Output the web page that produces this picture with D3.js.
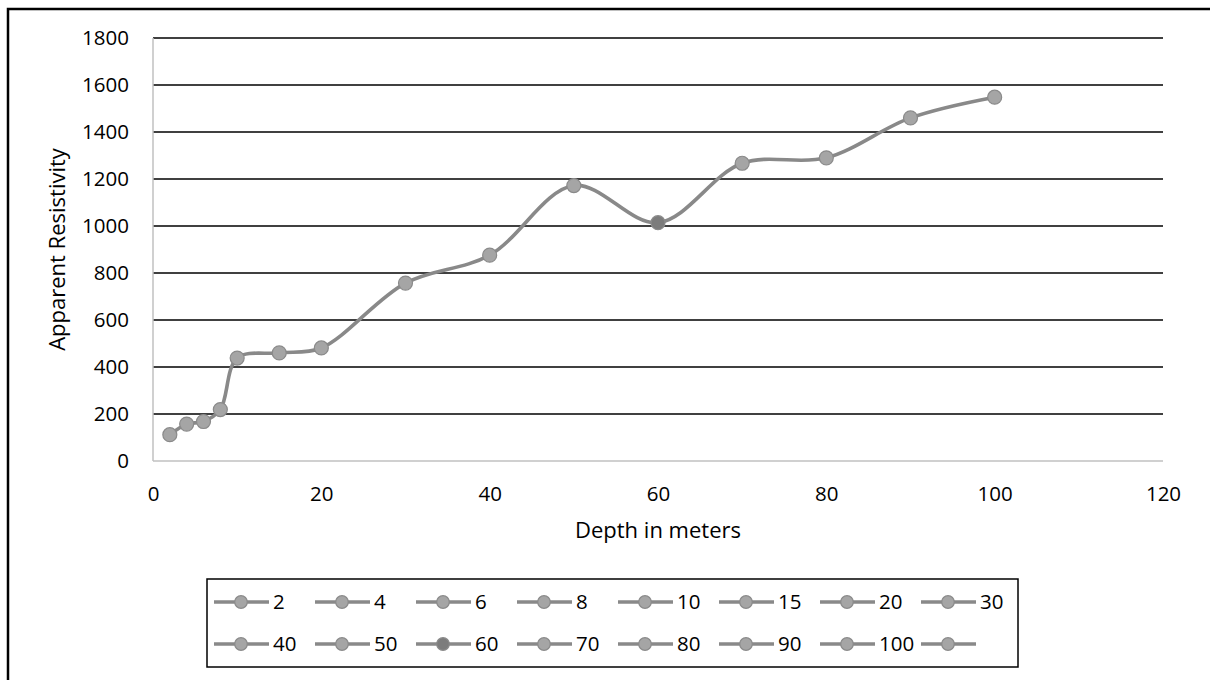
<!DOCTYPE html>
<html>
<head>
<meta charset="utf-8">
<script src="https://cdn.jsdelivr.net/npm/d3@7/dist/d3.min.js"></script>
<style>
  body { margin: 0; background: #fff; }
  text { font-family: "Open Sans", "Noto Sans", sans-serif; fill: #000; }
</style>
</head>
<body>
<div id="chart"></div>
<script>
// data
var depths = [2, 4, 6, 8, 10, 15, 20, 30, 40, 50, 60, 70, 80, 90, 100];
var resistivity = [112, 157, 168, 219, 438, 460, 481, 757, 876, 1172, 1014, 1267, 1290, 1460, 1548];
var legendLabels = ["2", "4", "6", "8", "10", "15", "20", "30", "40", "50", "60", "70", "80", "90", "100", ""];
var xTicks = [0, 20, 40, 60, 80, 100, 120];
var yTicks = [0, 200, 400, 600, 800, 1000, 1200, 1400, 1600, 1800];

var svgWidth = 1210;
var svgHeight = 680;

var svg = d3.select("#chart")
  .append("svg")
  .attr("width", svgWidth)
  .attr("height", svgHeight);

// outer frame (only top and left edges are visible)
svg.append("path")
  .attr("d", "M8,680 L8,9 L1210,9")
  .attr("fill", "none")
  .attr("stroke", "#000")
  .attr("stroke-width", 2.5);

// scales
var xScale = d3.scaleLinear().domain([0, 120]).range([153, 1163]);
var yScale = d3.scaleLinear().domain([0, 1800]).range([461, 38]);

// gridlines
svg.append("g")
  .selectAll("line")
  .data(yTicks.filter(d => d > 0))
  .enter()
  .append("line")
  .attr("x1", xScale(0))
  .attr("x2", xScale(120))
  .attr("y1", d => yScale(d))
  .attr("y2", d => yScale(d))
  .attr("stroke", "#000")
  .attr("stroke-width", 1.5);

// axis lines
svg.append("line")
  .attr("x1", xScale(0)).attr("x2", xScale(0))
  .attr("y1", yScale(1800)).attr("y2", yScale(0))
  .attr("stroke", "#c0c0c0").attr("stroke-width", 1.5);
svg.append("line")
  .attr("x1", xScale(0)).attr("x2", xScale(120))
  .attr("y1", yScale(0)).attr("y2", yScale(0))
  .attr("stroke", "#c0c0c0").attr("stroke-width", 1.5);

// tick labels
var yAxis = svg.append("g")
  .attr("transform", `translate(${xScale(0)},0)`)
  .call(d3.axisLeft(yScale).tickValues(yTicks).tickFormat(d3.format("d")).tickSize(0).tickPadding(24));
yAxis.select(".domain").remove();
yAxis.selectAll("text").style("font-size", "20.5px").style("font-family", "'Open Sans', sans-serif");

var xAxis = svg.append("g")
  .attr("transform", `translate(0,${yScale(0)})`)
  .call(d3.axisBottom(xScale).tickValues(xTicks).tickFormat(d3.format("d")).tickSize(0).tickPadding(25));
xAxis.select(".domain").remove();
xAxis.selectAll("text").style("font-size", "20.5px").style("font-family", "'Open Sans', sans-serif");

// axis titles
svg.append("text")
  .attr("x", (xScale(0) + xScale(120)) / 2)
  .attr("y", 538)
  .attr("text-anchor", "middle")
  .style("font-size", "22px")
  .text("Depth in meters");

svg.append("text")
  .attr("transform", `translate(65,${(yScale(0) + yScale(1800)) / 2}) rotate(-90)`)
  .attr("text-anchor", "middle")
  .style("font-size", "22px")
  .text("Apparent Resistivity");

// smoothed line
var points = depths.map((d, i) => [d, resistivity[i]]);
var line = d3.line()
  .x(d => xScale(d[0]))
  .y(d => yScale(d[1]))
  .curve(d3.curveCatmullRom.alpha(0.5));

svg.append("path")
  .datum(points)
  .attr("d", line)
  .attr("fill", "none")
  .attr("stroke", "#898989")
  .attr("stroke-width", 3.6);

// markers (60 m point is darker)
function markerFill(label) {
  return label === "60" ? "#7c7c7c" : "#a5a5a5";
}

svg.append("g")
  .selectAll("circle")
  .data(points)
  .enter()
  .append("circle")
  .attr("cx", d => xScale(d[0]))
  .attr("cy", d => yScale(d[1]))
  .attr("r", 7)
  .attr("fill", d => markerFill(String(d[0])))
  .attr("stroke", "#8a8a8a")
  .attr("stroke-width", 1.2);

// legend
svg.append("rect")
  .attr("x", 207)
  .attr("y", 579)
  .attr("width", 811)
  .attr("height", 88)
  .attr("fill", "#fff")
  .attr("stroke", "#000")
  .attr("stroke-width", 1.5);

var legendItems = svg.append("g")
  .selectAll("g")
  .data(legendLabels)
  .enter()
  .append("g")
  .attr("transform", (d, i) => `translate(${214 + (i % 8) * 101},${i < 8 ? 602 : 644})`);

legendItems.append("line")
  .attr("x1", 0).attr("x2", 55)
  .attr("y1", 0).attr("y2", 0)
  .attr("stroke", "#898989")
  .attr("stroke-width", 3.6);

legendItems.append("circle")
  .attr("cx", 27)
  .attr("cy", 0)
  .attr("r", 6.3)
  .attr("fill", d => markerFill(d))
  .attr("stroke", "#8a8a8a")
  .attr("stroke-width", 1.2);

legendItems.append("text")
  .attr("x", 59)
  .attr("y", 0)
  .attr("dy", "0.35em")
  .style("font-size", "20.5px")
  .text(d => d);
</script>
</body>
</html>
